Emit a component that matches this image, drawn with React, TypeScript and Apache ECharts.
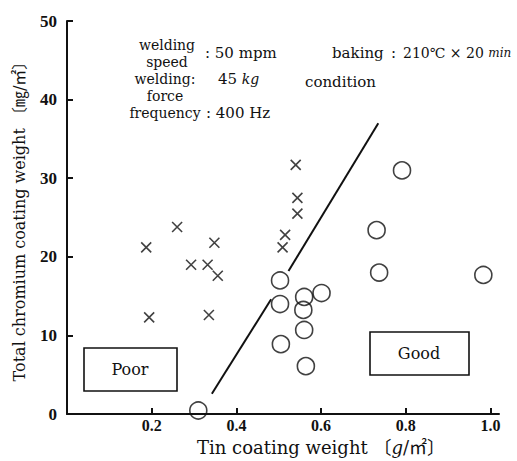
import React, { useEffect, useRef } from "react";
import * as echarts from "echarts";

const xTickValues = [0.2, 0.4, 0.6, 0.8, 1.0];
const yTickValues = [0, 10, 20, 30, 40, 50];

// Poor (cross) points: [tin coating weight g/m2, total chromium mg/m2]
const poorX = [0.260, 0.187, 0.348, 0.293, 0.332, 0.356, 0.194, 0.335, 0.540, 0.544, 0.544, 0.515, 0.509];
const poorY = [23.8, 21.2, 21.8, 19.0, 19.0, 17.6, 12.3, 12.6, 31.7, 27.5, 25.5, 22.8, 21.2];

// Good (circle) points
const goodX = [0.503, 0.503, 0.560, 0.601, 0.558, 0.560, 0.505, 0.564, 0.791, 0.731, 0.737, 0.983, 0.310];
const goodY = [17.0, 14.0, 14.9, 15.4, 13.25, 10.7, 8.9, 6.1, 31.0, 23.4, 18.0, 17.7, 0.46];

// Boundary line (drawn in two pieces, broken around a circle)
const boundaryLowerX = [0.342, 0.482];
const boundaryLowerY = [2.6, 14.6];
const boundaryUpperX = [0.523, 0.735];
const boundaryUpperY = [18.2, 37.0];

const zip = (xs: number[], ys: number[]) => xs.map((x, i) => [x, ys[i]]);

const SERIF = "'DejaVu Serif', 'Liberation Serif', 'Noto Sans CJK JP', serif";
const NUMFONT = "'Liberation Serif', 'DejaVu Serif', serif";

export default function App() {
  const ref = useRef<HTMLDivElement>(null);

  useEffect(() => {
    document.body.style.margin = "0";
    if (!ref.current) return;
    const chart = echarts.init(ref.current, undefined, { renderer: "svg" });

    const txt = (text: string, x: number, y: number, extra: any = {}) => ({
      type: "text",
      x,
      y,
      style: {
        text,
        fill: "#111",
        font: `15px ${SERIF}`,
        align: "left",
        verticalAlign: "middle",
        ...extra,
      },
    });

    chart.setOption({
      animation: false,
      backgroundColor: "#fff",
      grid: { left: 67, top: 21, width: 432, height: 400 },
      xAxis: {
        type: "value",
        min: 0,
        max: 1.02,
        name: "Tin coating weight 〔{i|g}/㎡〕",
        nameLocation: "middle",
        nameGap: 21,
        nameTextStyle: {
          color: "#111",
          fontFamily: SERIF,
          fontSize: 18,
          padding: [0, 0, 0, 76],
          rich: { i: { fontStyle: "italic", fontFamily: SERIF, fontSize: 18, color: "#111" } },
        },
        splitLine: { show: false },
        axisLine: { show: true, lineStyle: { color: "#111", width: 2 } },
        axisTick: { show: true, inside: true, length: 6, customValues: xTickValues, lineStyle: { color: "#111", width: 2 } },
        axisLabel: {
          customValues: xTickValues,
          formatter: (v: number) => v.toFixed(1),
          color: "#111",
          fontFamily: NUMFONT,
          fontWeight: "bold",
          fontSize: 16,
          margin: 3,
        },
      },
      yAxis: {
        type: "value",
        min: 0,
        max: 50,
        interval: 10,
        name: "Total chromium coating weight 〔㎎/㎡〕",
        nameLocation: "middle",
        nameRotate: 90,
        nameGap: 40,
        nameTextStyle: { color: "#111", fontFamily: SERIF, fontSize: 16 },
        splitLine: { show: false },
        axisLine: { show: true, lineStyle: { color: "#111", width: 2 } },
        axisTick: { show: true, inside: true, length: 6, lineStyle: { color: "#111", width: 2 } },
        axisLabel: {
          customValues: yTickValues,
          color: "#111",
          fontFamily: NUMFONT,
          fontWeight: "bold",
          fontSize: 17,
          margin: 10,
        },
      },
      series: [
        {
          name: "Poor",
          type: "scatter",
          data: zip(poorX, poorY),
          symbol: "path://M0,0L10,10M10,0L0,10",
          symbolSize: 10,
          itemStyle: { color: "transparent", borderColor: "#111", borderWidth: 1.6 },
        },
        {
          name: "Good",
          type: "scatter",
          data: zip(goodX, goodY),
          symbol: "circle",
          symbolSize: 17,
          itemStyle: { color: "transparent", borderColor: "#111", borderWidth: 1.6 },
        },
        {
          type: "line",
          data: zip(boundaryLowerX, boundaryLowerY),
          showSymbol: false,
          lineStyle: { color: "#111", width: 2 },
        },
        {
          type: "line",
          data: zip(boundaryUpperX, boundaryUpperY),
          showSymbol: false,
          lineStyle: { color: "#111", width: 2 },
        },
      ],
      graphic: [
        txt("welding\nspeed", 167, 53, { align: "center", lineHeight: 17, font: `14px ${SERIF}` }),
        txt(": 50 mpm", 205, 53),
        txt("welding:\nforce\nfrequency", 165, 96, { align: "center", lineHeight: 17, font: `14px ${SERIF}` }),
        {
          type: "text",
          x: 218,
          y: 79,
          style: {
            text: "45 {i|kg}",
            fill: "#111",
            font: `15px ${SERIF}`,
            align: "left",
            verticalAlign: "middle",
            rich: { i: { fontStyle: "italic", fontSize: 14, fontFamily: SERIF, fill: "#111" } },
          },
        },
        txt(": 400 Hz", 206, 113),
        txt("baking", 332, 53),
        txt(":", 391, 53),
        {
          type: "text",
          x: 403,
          y: 53,
          style: {
            text: "210℃ × 20 {i|min}",
            fill: "#111",
            font: `14px ${SERIF}`,
            align: "left",
            verticalAlign: "middle",
            rich: { i: { fontStyle: "italic", fontSize: 12, fontFamily: SERIF, fill: "#111" } },
          },
        },
        txt("condition", 305, 82),
        {
          type: "rect",
          shape: { x: 84, y: 348, width: 93, height: 43 },
          style: { fill: "transparent", stroke: "#111", lineWidth: 1.6 },
        },
        txt("Poor", 130, 369, { align: "center", font: `16px ${SERIF}` }),
        {
          type: "rect",
          shape: { x: 370, y: 332, width: 99, height: 43 },
          style: { fill: "transparent", stroke: "#111", lineWidth: 1.6 },
        },
        txt("Good", 419, 353, { align: "center", font: `16px ${SERIF}` }),
      ],
    });

    return () => chart.dispose();
  }, []);

  return <div ref={ref} style={{ width: 517, height: 461 }} />;
}
